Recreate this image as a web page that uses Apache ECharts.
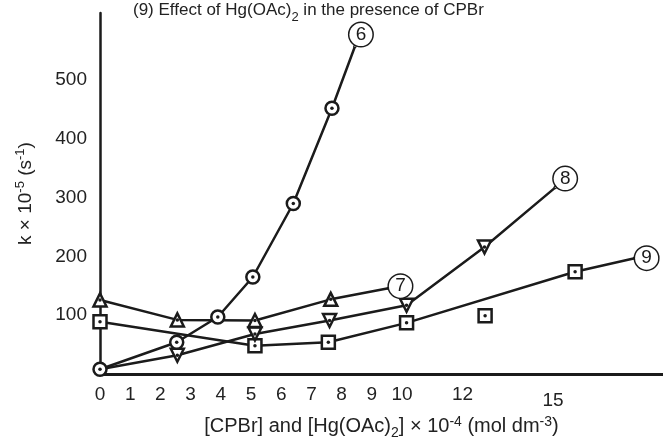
<!DOCTYPE html>
<html>
<head>
<meta charset="utf-8">
<script src="https://cdn.jsdelivr.net/npm/echarts@6/dist/echarts.min.js"></script>
<style>
  html, body { margin: 0; padding: 0; background: #fff; }
  #main { width: 663px; height: 441px; }
</style>
</head>
<body>
<div id="main"></div>
<script>
var chartDom = document.getElementById('main');
var myChart = echarts.init(chartDom);
var option;

// values: concentration x 10^-4, k x 10^-5
var x6 = [0, 2.54, 3.9, 5.06, 6.4, 7.68, 8.44];
var y6 = [8, 54, 97, 165, 290, 452, 557];
var x7 = [0, 2.56, 5.13, 7.64, 9.55];
var y7 = [126, 92, 91, 127, 146];
var x8 = [0, 2.56, 5.13, 7.6, 10.15, 12.73, 15.07];
var y8 = [8, 32, 68, 91, 117, 216, 317];
var x9 = [0, 5.13, 7.56, 10.15, 15.73, 17.7];
var y9 = [89, 48, 54, 87, 174, 197];
var xStray = [12.75];
var yStray = [99];
var xLabels = [0, 1, 2, 3, 4, 5, 6, 7, 8, 9, 10, 12, 15];
var yLabels = [100, 200, 300, 400, 500];

var ink = '#1b1b1b';
var font = 'Liberation Sans, Arial, sans-serif';

// last point of each curve only carries the circled curve number
function curve(xs, ys, tag, offset, skipFirst) {
  return xs.map(function (x, i) {
    var item = { value: [x, ys[i]] };
    if (i === xs.length - 1) {
      item.symbol = 'circle';
      item.symbolSize = 1;
      item.label = {
        show: true,
        position: 'inside',
        offset: offset,
        formatter: tag,
        color: ink,
        fontFamily: font,
        fontSize: 19,
        backgroundColor: '#fff',
        borderColor: ink,
        borderWidth: 1.5,
        borderRadius: 12,
        width: 23,
        height: 23,
        lineHeight: 23,
        align: 'center',
        verticalAlign: 'middle'
      };
    } else if (i === 0 && skipFirst) {
      item.symbol = 'none';
    }
    return item;
  });
}
function dots(xs, ys, dropLast, skipFirst) {
  var out = [];
  for (var i = skipFirst ? 1 : 0; i < xs.length - (dropLast ? 1 : 0); i++) {
    out.push([xs[i], ys[i]]);
  }
  return out;
}
function lineSeries(data, symbol, rotate) {
  return {
    type: 'line',
    data: data,
    symbol: symbol,
    symbolSize: 13,
    symbolRotate: rotate || 0,
    showAllSymbol: true,
    lineStyle: { color: ink, width: 2.5 },
    itemStyle: { color: '#fff', borderColor: ink, borderWidth: 2.5 },
    z: 3
  };
}
function dotSeries(data) {
  return {
    type: 'scatter',
    data: data,
    symbol: 'circle',
    symbolSize: 3.5,
    itemStyle: { color: ink, opacity: 1 },
    silent: true,
    z: 5
  };
}

option = {
  animation: false,
  backgroundColor: '#fff',
  title: {
    text: '(9) Effect of Hg(OAc){sub|2} in the presence of CPBr',
    left: 128,
    top: -8,
    textStyle: {
      fontFamily: font,
      fontSize: 17,
      fontWeight: 'normal',
      color: '#222',
      rich: {
        sub: { fontFamily: font, fontSize: 13, color: '#222', padding: [14, 0, 0, 0] }
      }
    }
  },
  grid: { left: 100, right: 0, top: 13, bottom: 67, containLabel: false, outerBoundsMode: 'none' },
  xAxis: {
    type: 'value',
    min: 0,
    max: 18.64,
    interval: 1,
    name: '[CPBr] and [Hg(OAc){sub|2}] × 10{sup|-4} (mol dm{sup|-3})',
    nameLocation: 'middle',
    nameGap: 33,
    nameTextStyle: {
      fontFamily: font,
      fontSize: 20,
      color: '#222',
      rich: {
        sub: { fontFamily: font, fontSize: 14, color: '#222', padding: [12, 0, 0, 0] },
        sup: { fontFamily: font, fontSize: 14, color: '#222', padding: [0, 0, 10, 0] }
      }
    },
    axisLine: { show: true, lineStyle: { color: ink, width: 3 } },
    axisTick: { show: false },
    splitLine: { show: false },
    axisLabel: {
      margin: 11,
      fontFamily: font,
      fontSize: 19,
      color: '#222',
      formatter: function (v) {
        if (xLabels.indexOf(v) < 0) return '';
        return v === 15 ? '{low|15}' : String(v);
      },
      rich: {
        low: { fontFamily: font, fontSize: 19, color: '#222', padding: [6, 0, 0, 0] }
      }
    }
  },
  yAxis: {
    type: 'value',
    min: 0,
    max: 614,
    interval: 100,
    name: 'k × 10{sup|-5} (s{sup|-1})',
    nameLocation: 'middle',
    nameRotate: 90,
    nameGap: 63,
    nameTextStyle: {
      fontFamily: font,
      fontSize: 19,
      color: '#222',
      rich: {
        sup: { fontFamily: font, fontSize: 13, color: '#222', padding: [0, 0, 10, 0] }
      }
    },
    axisLine: { show: true, lineStyle: { color: ink, width: 2.5 } },
    axisTick: { show: false },
    splitLine: { show: false },
    axisLabel: {
      margin: 13,
      fontFamily: font,
      fontSize: 19,
      color: '#222',
      formatter: function (v) {
        return yLabels.indexOf(v) < 0 ? '' : String(v);
      }
    }
  },
  series: [
    lineSeries(curve(x9, y9, '9', [12, 0]), 'rect'),
    lineSeries(curve(x8, y8, '8', [10, -9], true), 'triangle', 180),
    lineSeries(curve(x7, y7, '7', [12, -2]), 'triangle'),
    lineSeries(curve(x6, y6, '6', [6, -12]), 'circle'),
    {
      type: 'scatter',
      data: xStray.map(function (x, i) { return [x, yStray[i]]; }),
      symbol: 'rect',
      symbolSize: 13,
      itemStyle: { color: '#fff', borderColor: ink, borderWidth: 2.5, opacity: 1 },
      z: 3
    },
    dotSeries(dots(x9, y9, true)),
    dotSeries(dots(x8, y8, true, true)),
    dotSeries(dots(x7, y7, true)),
    dotSeries(dots(x6, y6, true)),
    dotSeries(xStray.map(function (x, i) { return [x, yStray[i]]; }))
  ]
};

option && myChart.setOption(option);
</script>
</body>
</html>
